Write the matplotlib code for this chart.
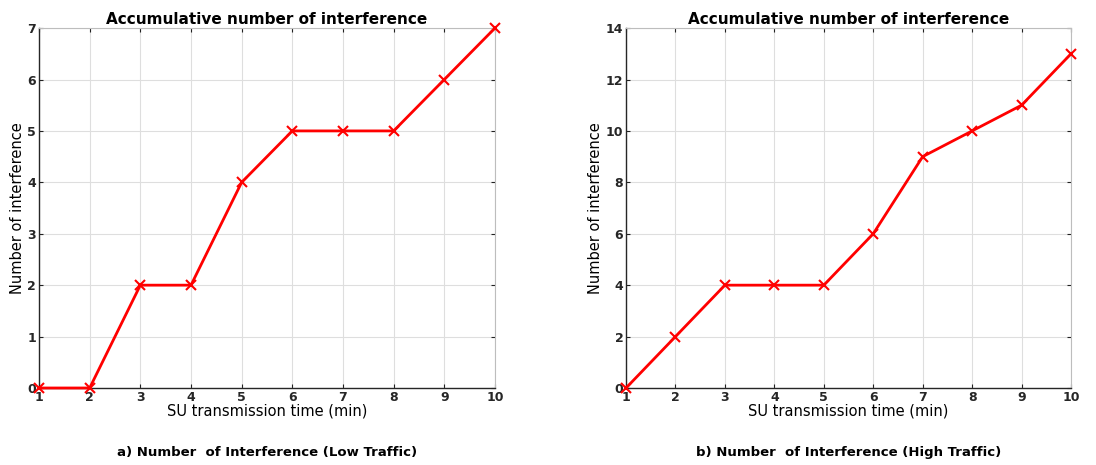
import numpy as np
import matplotlib.pyplot as plt

time_min = [1, 2, 3, 4, 5, 6, 7, 8, 9, 10]
low_traffic = [0, 0, 2, 2, 4, 5, 5, 5, 6, 7]
high_traffic = [0, 2, 4, 4, 4, 6, 9, 10, 11, 13]

title = 'Accumulative number of interference'
xlab = 'SU transmission time (min)'
ylab = 'Number of interference'
captions = ['a) Number  of Interference (Low Traffic)',
            'b) Number  of Interference (High Traffic)']

fig = plt.figure(figsize=(10.96, 4.65), dpi=100)

panels = [
    ([0.0356, 0.1656, 0.416, 0.774], low_traffic, np.arange(0, 8, 1), 7),
    ([0.5712, 0.1656, 0.406, 0.774], high_traffic, np.arange(0, 15, 2), 14),
]

for (rect, vals, yticks, ymax), cap in zip(panels, captions):
    ax = fig.add_axes(rect)
    ax.plot(time_min, vals, color='red', lw=2, marker='x', ms=7, mew=1.5, clip_on=False, zorder=3)
    ax.set_xlim(1, 10)
    ax.set_ylim(0, ymax)
    ax.set_xticks(time_min)
    ax.set_yticks(yticks)
    ax.grid(True, color='#dedede', lw=0.8)
    ax.tick_params(direction='in', length=3, labelsize=9, pad=2, top=True, right=True, color='#222222')
    for lbl in ax.get_xticklabels() + ax.get_yticklabels():
        lbl.set_fontweight('bold')
        lbl.set_color('#262626')
    for side in ['left', 'bottom']:
        ax.spines[side].set_color('#262626')
        ax.spines[side].set_linewidth(1.0)
    for side in ['top', 'right']:
        ax.spines[side].set_color('#bdbdbd')
        ax.spines[side].set_linewidth(0.8)
    ax.set_title(title, fontsize=11, fontweight='bold', pad=3)
    ax.set_xlabel(xlab, fontsize=10.5, labelpad=0)
    ax.set_ylabel(ylab, fontsize=10.5, labelpad=2)
    ax.text(0.5, -0.16, cap, transform=ax.transAxes, ha='center', va='top',
            fontsize=9.5, fontweight='heavy', color='black')

fig.savefig('out.png', dpi=100)
